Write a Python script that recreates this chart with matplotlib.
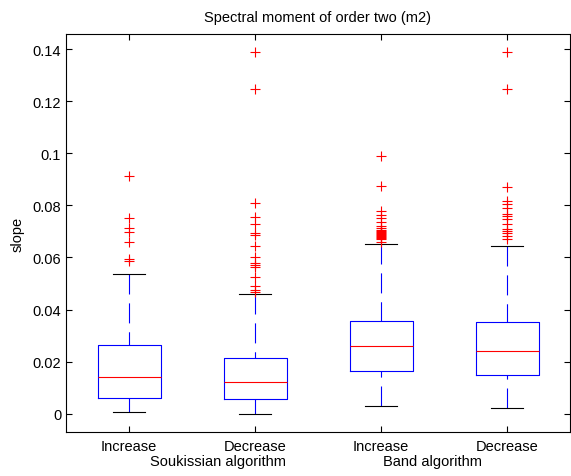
import matplotlib
matplotlib.use("Agg")
import matplotlib.pyplot as plt
import matplotlib.transforms as mtransforms

plt.rcParams['font.family'] = ['Liberation Sans', 'DejaVu Sans']

categories = ["Increase", "Decrease", "Increase", "Decrease"]
groups = ["Soukissian algorithm", "Band algorithm"]
title = "Spectral moment of order two (m2)"
ylabel = "slope"

q1 = [0.0059, 0.0055, 0.0163, 0.0149]
med = [0.0140, 0.0122, 0.0260, 0.0242]
q3 = [0.0264, 0.0214, 0.0357, 0.0353]
whislo = [0.0005, 0.0000, 0.0031, 0.0023]
whishi = [0.0536, 0.0459, 0.0653, 0.0645]
fliers = [
    [0.0914, 0.0751, 0.0712, 0.0696, 0.0658, 0.0594, 0.0585],
    [0.1389, 0.1246, 0.0808, 0.0756, 0.0728, 0.0692, 0.0686, 0.0643, 0.0600,
     0.0577, 0.0571, 0.0564, 0.0524, 0.0491, 0.0475, 0.0466],
    [0.0990, 0.0873, 0.0777, 0.0764, 0.0751, 0.0735, 0.0722, 0.0712, 0.0706,
     0.0703, 0.0699, 0.0695, 0.0691, 0.0687, 0.0683, 0.0679, 0.0675, 0.0671, 0.0658],
    [0.1389, 0.1246, 0.0869, 0.0818, 0.0805, 0.0788, 0.0767, 0.0758, 0.0747,
     0.0728, 0.0709, 0.0703, 0.0694, 0.0683, 0.0671],
]
yticks = [0, 0.02, 0.04, 0.06, 0.08, 0.1, 0.12, 0.14]
yticklabels = ["0", "0.02", "0.04", "0.06", "0.08", "0.1", "0.12", "0.14"]

fig = plt.figure(figsize=(5.71, 4.77), dpi=100)
ax = fig.add_axes([66/571, 1-433.3/477, (570-66)/571, (433.3-34.7)/477])

stats = []
for i in range(4):
    stats.append(dict(q1=q1[i], med=med[i], q3=q3[i], whislo=whislo[i],
                      whishi=whishi[i], fliers=fliers[i]))

positions = [1, 2, 3, 4]
lw = 0.8
res = ax.bxp(stats, positions=positions, widths=0.5, capwidths=0.25,
             showfliers=True,
             boxprops=dict(color='blue', linewidth=lw),
             medianprops=dict(color='red', linewidth=lw),
             whiskerprops=dict(color='blue', linewidth=lw, linestyle=(0, (18, 8))),
             capprops=dict(color='black', linewidth=lw),
             flierprops=dict(marker='+', markeredgecolor='red', markersize=7.5,
                             markeredgewidth=0.8, linestyle='none'))
# start whisker dashes from the cap end, like the reference
for w in res['whiskers']:
    x, y = w.get_data()
    w.set_data(list(x)[::-1], list(y)[::-1])

ax.set_xlim(0.5, 4.5)
ax.set_ylim(-0.00714, 0.1459)
ax.set_yticks(yticks)
ax.set_yticklabels(yticklabels)
ax.set_xticks(positions)
ax.set_xticklabels(categories)
ax.tick_params(direction='in', length=4, width=0.8, top=True, right=True,
               labelsize=10.5, colors='black')
ax.tick_params(axis='x', pad=5)
for s in ax.spines.values():
    s.set_linewidth(0.8)

ax.set_title(title, fontsize=10.5, pad=9)
ax.set_ylabel(ylabel, fontsize=10.5, labelpad=6)

trans = mtransforms.blended_transform_factory(ax.transData, fig.transFigure)
ax.text(1.71, 1-462/477, groups[0], transform=trans, ha='center', va='center', fontsize=10.5)
ax.text(3.41, 1-462/477, groups[1], transform=trans, ha='center', va='center', fontsize=10.5)

fig.savefig("out.png", dpi=100)
